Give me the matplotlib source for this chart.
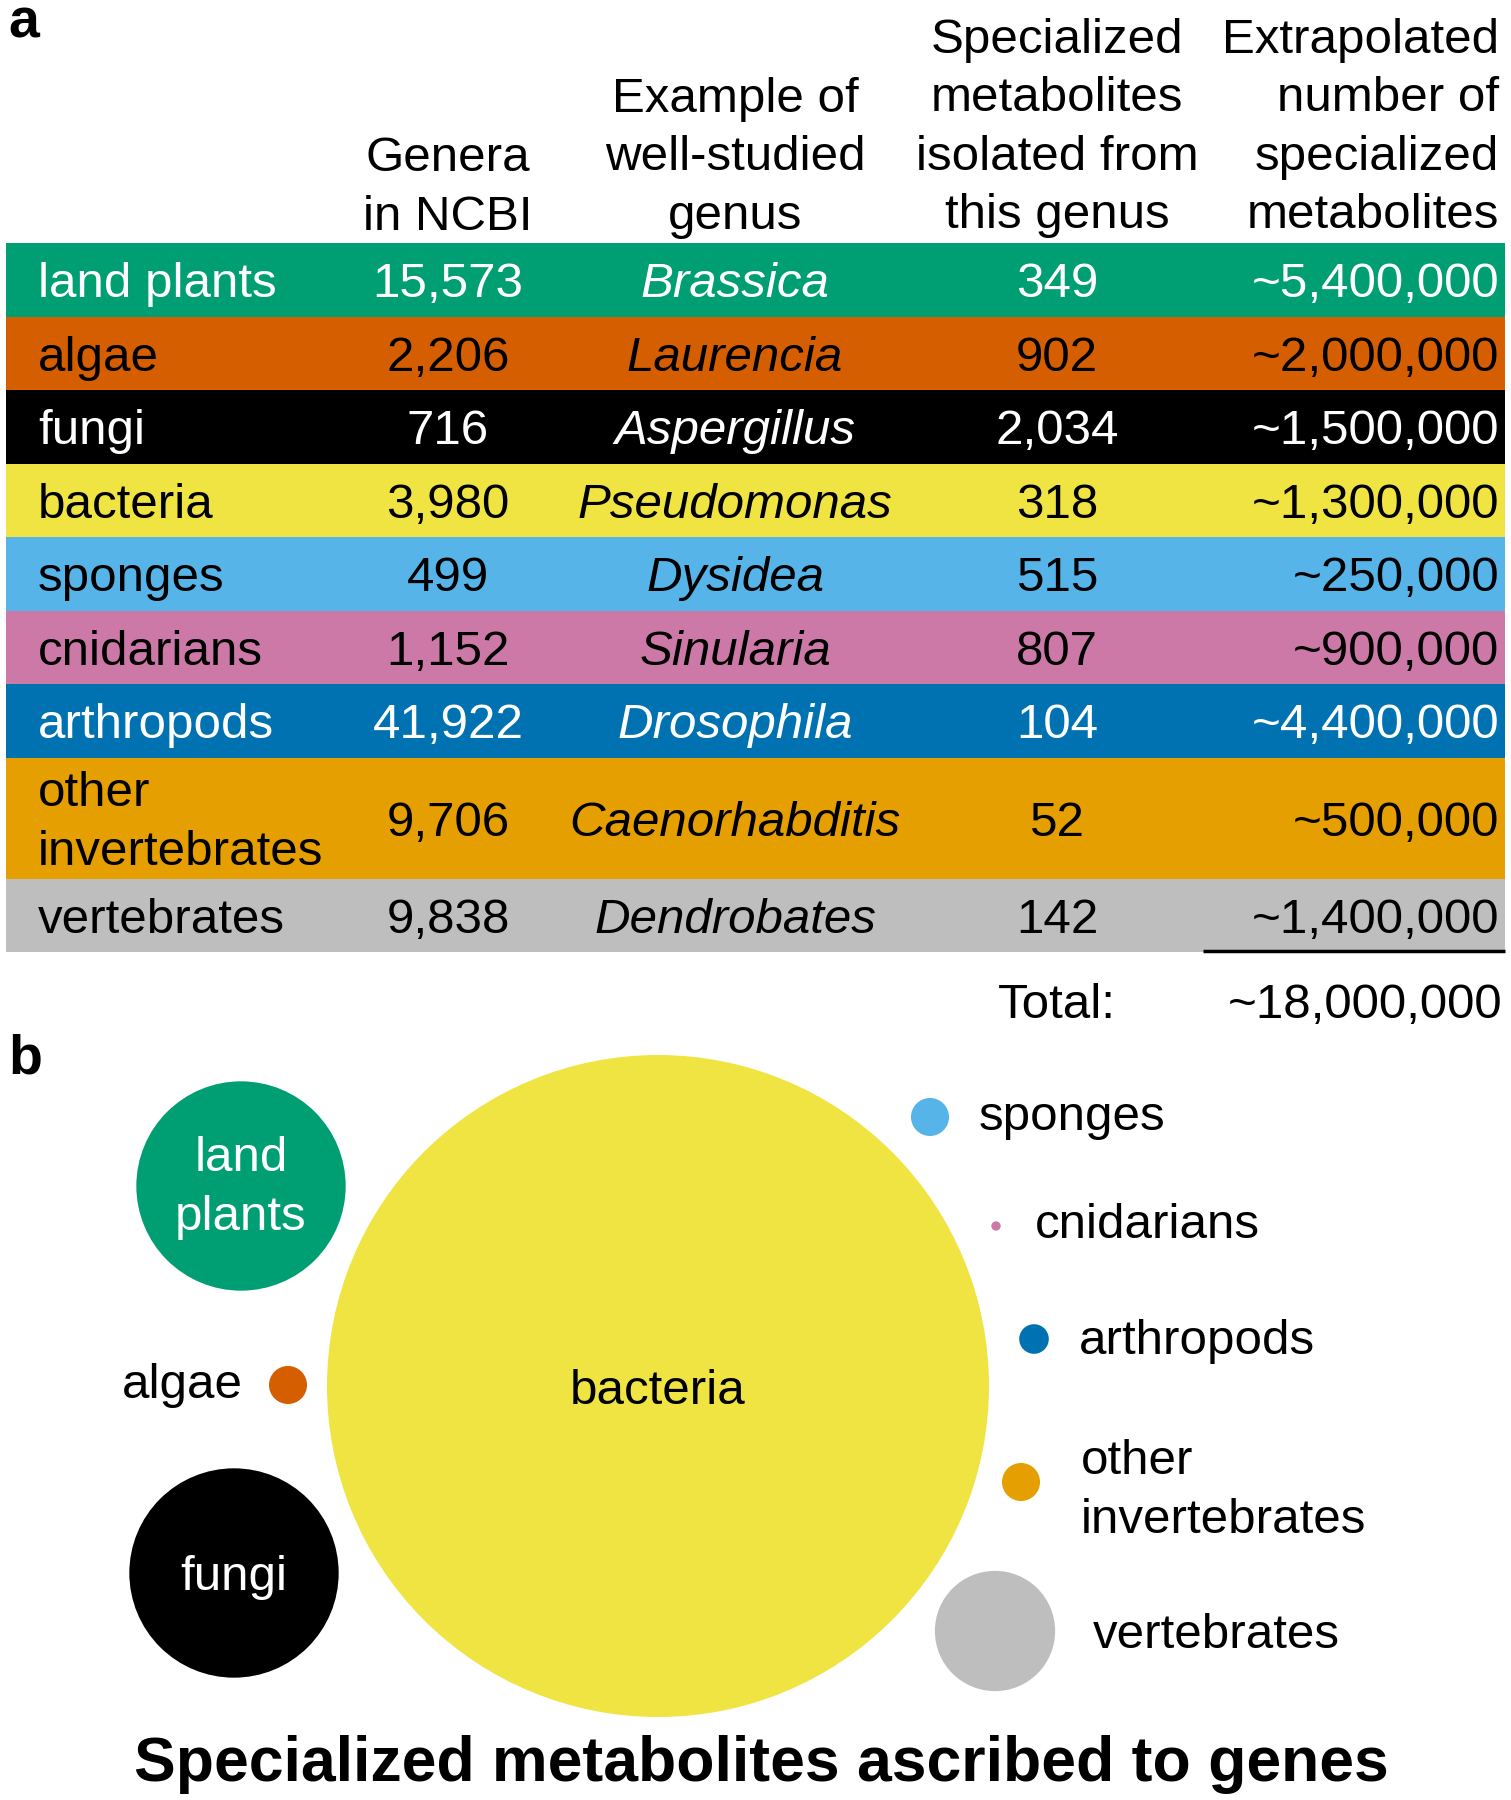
import numpy as np
import matplotlib
matplotlib.use("Agg")
from matplotlib import pyplot as plt
from matplotlib.patches import Rectangle, Circle

plt.rcParams['font.family'] = ['Liberation Sans', 'DejaVu Sans']

# table data (panel a)
groups = ['land plants', 'algae', 'fungi', 'bacteria', 'sponges', 'cnidarians',
          'arthropods', 'other\ninvertebrates', 'vertebrates']
genera_ncbi = [15573, 2206, 716, 3980, 499, 1152, 41922, 9706, 9838]
example_genus = ['Brassica', 'Laurencia', 'Aspergillus', 'Pseudomonas', 'Dysidea',
                 'Sinularia', 'Drosophila', 'Caenorhabditis', 'Dendrobates']
isolated = [349, 902, 2034, 318, 515, 807, 104, 52, 142]
extrapolated = [5400000, 2000000, 1500000, 1300000, 250000, 900000, 4400000, 500000, 1400000]
headers = ['Genera\nin NCBI', 'Example of\nwell-studied\ngenus',
           'Specialized\nmetabolites\nisolated from\nthis genus',
           'Extrapolated\nnumber of\nspecialized\nmetabolites']

# bubble data (panel b): relative number of metabolites ascribed to genes
ascribed = [100, 3.3, 100, 1000, 3.3, 0.2, 2.0, 3.3, 33]

colors = ['#009E73', '#D55E00', '#000000', '#F0E442', '#56B4E9', '#CC79A7',
          '#0072B2', '#E69F00', '#BEBEBE']
text_colors = ['white', 'black', 'white', 'black', 'black', 'black', 'white', 'black', 'black']

fig = plt.figure(figsize=(15.11, 18), dpi=100)
ax = fig.add_axes([0, 0, 1, 1])
ax.set_xlim(0, 1511)
ax.set_ylim(1800, 0)
ax.set_aspect('equal')
ax.axis('off')

fs = 35.5
ls = 1.38
dy = 5  # small nudge so text sits visually centred


def txt(x, y, s, **kw):
    kw.setdefault('fontsize', fs)
    kw.setdefault('va', 'center')
    kw.setdefault('linespacing', ls)
    return ax.text(x, y + dy, s, **kw)


# ---- panel a ----
ax.text(8, 24, 'a', fontsize=40, fontweight='bold', va='center', ha='left')

col_x = [448, 735, 1057, 1499]
col_ha = ['center', 'center', 'center', 'right']
line_h = 60
last_line_y = 213
for h, x, ha in zip(headers, col_x, col_ha):
    n = h.count('\n') + 1
    yc = last_line_y - (n - 1) * line_h / 2
    txt(x, yc, h, ha=ha, multialignment=ha)

left, right = 6, 1505
y = 243
for i, g in enumerate(groups):
    hgt = 121 if '\n' in g else 73.5
    ax.add_patch(Rectangle((left, y), right - left, hgt, facecolor=colors[i],
                           edgecolor='none'))
    yc = y + hgt / 2
    tc = text_colors[i]
    txt(38, yc, g, color=tc, ha='left')
    txt(col_x[0], yc, f'{genera_ncbi[i]:,}', color=tc, ha='center')
    txt(col_x[1], yc, example_genus[i], color=tc, style='italic', ha='center')
    txt(col_x[2], yc, f'{isolated[i]:,}', color=tc, ha='center')
    txt(col_x[3], yc, f'~{extrapolated[i]:,}', color=tc, ha='right')
    y += hgt

ax.plot([1203, right], [y - 1, y - 1], color='black', lw=2.5, solid_capstyle='butt')
total = int(round(sum(extrapolated), -6))
txt(col_x[2], 1000, 'Total:', ha='center')
txt(1502, 1000, f'~{total:,}', ha='right')

# ---- panel b ----
ax.text(8, 1060, 'b', fontsize=40, fontweight='bold', va='center', ha='left')

scale = 331 / np.sqrt(max(ascribed))
centers = [(241, 1186), (288, 1385), (234, 1573), (658, 1386), (930, 1117),
           (996, 1226), (1034, 1339), (1021, 1482), (995, 1631)]
for i, (cx, cy) in enumerate(centers):
    ax.add_patch(Circle((cx, cy), scale * np.sqrt(ascribed[i]), facecolor=colors[i],
                        edgecolor='none'))

# labels inside bubbles
txt(241, 1183, 'land\nplants', color='white', ha='center')
txt(234, 1573, 'fungi', color='white', ha='center')
txt(658, 1387, 'bacteria', color='black', ha='center')
# labels beside bubbles
txt(243, 1381, 'algae', ha='right')
txt(979, 1112, 'sponges', ha='left')
txt(1035, 1220, 'cnidarians', ha='left')
txt(1079, 1336, 'arthropods', ha='left')
txt(1081, 1486, 'other\ninvertebrates', ha='left')
txt(1093, 1631, 'vertebrates', ha='left')

ax.text(761, 1765, 'Specialized metabolites ascribed to genes', fontsize=45,
        fontweight='bold', ha='center', va='center')

fig.savefig('out.png', dpi=100)
